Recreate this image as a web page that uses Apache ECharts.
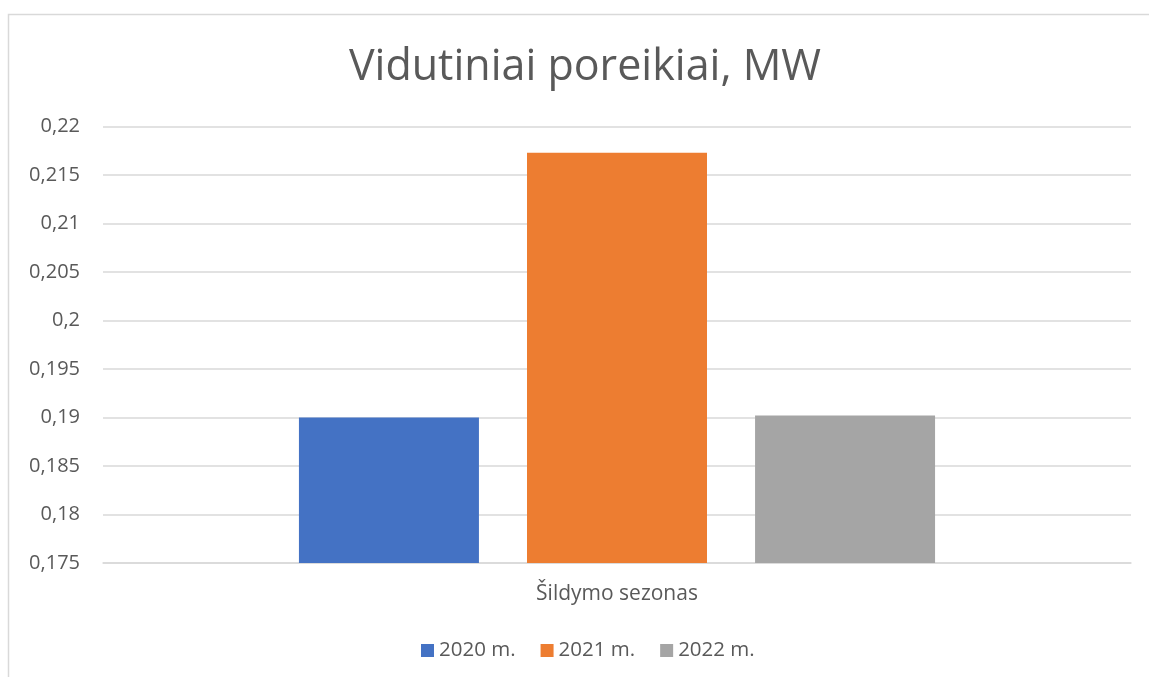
<!DOCTYPE html>
<html>
<head>
<meta charset="utf-8">
<script src="https://cdn.jsdelivr.net/npm/echarts@6/dist/echarts.min.js"></script>
<style>html,body{margin:0;padding:0;background:#fff}#c{width:1149px;height:677px}</style>
</head>
<body>
<div id="c"></div>
<script>
const categories = ['Šildymo sezonas'];
const seriesNames = ['2020 m.', '2021 m.', '2022 m.'];
const values2020 = [0.19];
const values2021 = [0.2173];
const values2022 = [0.1902];
const seriesColors = ['#4472C4', '#ED7D31', '#A5A5A5'];
const yTicks = { min: 0.175, max: 0.22, interval: 0.005 };

const FONT = '"Open Sans", sans-serif';
const chart = echarts.init(document.getElementById('c'), null, { renderer: 'canvas' });
const allValues = [values2020, values2021, values2022];
chart.setOption({
  animation: false,
  backgroundColor: '#fff',
  title: {
    text: 'Vidutiniai poreikiai, MW',
    left: 580, top: 41, textAlign: 'center',
    textStyle: { fontFamily: FONT, fontSize: 43, fontWeight: 'normal', color: '#595959' }
  },
  graphic: [{
    type: 'rect', shape: { x: 8.5, y: 14.5, width: 1200, height: 800 },
    style: { fill: 'none', stroke: '#d9d9d9', lineWidth: 1.5 }, silent: true
  }],
  legend: {
    data: seriesNames, top: 635, left: 416,
    itemWidth: 13, itemHeight: 13, itemGap: 25, icon: 'rect',
    textStyle: { fontFamily: FONT, fontSize: 20.5, color: '#595959' }
  },
  grid: { left: 103, right: 18, top: 126.5, bottom: 114 },
  xAxis: {
    type: 'category', data: categories,
    axisLine: { lineStyle: { color: '#d9d9d9', width: 1.5 } },
    axisTick: { show: false },
    axisLabel: { fontFamily: FONT, fontSize: 21, color: '#595959', margin: 21 }
  },
  yAxis: {
    type: 'value', min: yTicks.min, max: yTicks.max, interval: yTicks.interval,
    axisLine: { show: false }, axisTick: { show: false },
    splitLine: { lineStyle: { color: '#d9d9d9', width: 1.5 } },
    axisLabel: {
      fontFamily: FONT, fontSize: 20, color: '#595959', margin: 23,
      formatter: v => String(+v.toFixed(3)).replace('.', ',')
    }
  },
  series: seriesNames.map((n, i) => ({
    name: n, type: 'bar', data: allValues[i],
    barWidth: 180, barGap: '26.7%',
    itemStyle: { color: seriesColors[i] }
  }))
});
</script>
</body>
</html>
